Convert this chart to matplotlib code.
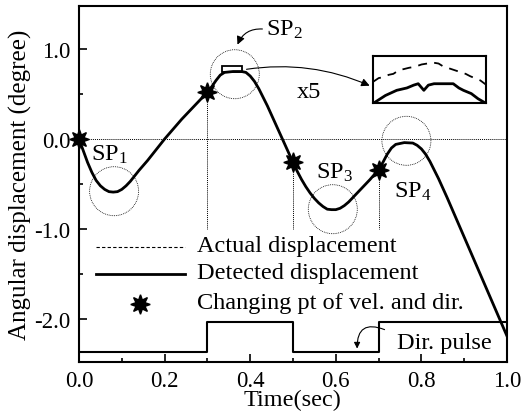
import matplotlib
matplotlib.use("Agg")
import matplotlib.pyplot as plt
from matplotlib.patches import Ellipse, Rectangle
from matplotlib.lines import Line2D
from matplotlib.ticker import MultipleLocator, FixedLocator

plt.rcParams['font.family'] = ['Liberation Serif', 'DejaVu Serif']
plt.rcParams['mathtext.fontset'] = 'custom'
plt.rcParams['mathtext.rm'] = 'Liberation Serif'
plt.rcParams['mathtext.it'] = 'Liberation Serif:italic'
plt.rcParams['axes.unicode_minus'] = False

# ---------------- data ----------------
time = [0.00, 0.01, 0.02, 0.03, 0.04, 0.05, 0.06, 0.07, 0.08, 0.09, 0.10, 0.11,
        0.12, 0.13, 0.14, 0.16, 0.18, 0.20, 0.22, 0.24, 0.26, 0.28, 0.30, 0.31,
        0.32, 0.33, 0.34, 0.36, 0.38, 0.39, 0.40, 0.41, 0.42, 0.44, 0.46, 0.48,
        0.50, 0.51, 0.52, 0.53, 0.54, 0.55, 0.56, 0.57, 0.58, 0.59, 0.60, 0.61,
        0.62, 0.63, 0.64, 0.66, 0.68, 0.70, 0.71, 0.72, 0.73, 0.74, 0.76, 0.78,
        0.79, 0.80, 0.81, 0.82, 0.84, 0.86, 0.90, 0.95, 1.00]
detected = [0.00, -0.13, -0.26, -0.37, -0.46, -0.52, -0.56, -0.585, -0.59, -0.585, -0.56, -0.52,
            -0.47, -0.41, -0.35, -0.24, -0.12, 0.00, 0.11, 0.22, 0.32, 0.42, 0.52, 0.58,
            0.65, 0.71, 0.74, 0.75, 0.75, 0.74, 0.70, 0.64, 0.56, 0.37, 0.16, -0.05,
            -0.26, -0.36, -0.45, -0.53, -0.60, -0.66, -0.71, -0.75, -0.78, -0.785, -0.785, -0.77,
            -0.74, -0.70, -0.65, -0.55, -0.45, -0.34, -0.26, -0.17, -0.10, -0.06, -0.04, -0.045,
            -0.07, -0.11, -0.17, -0.25, -0.44, -0.65, -1.09, -1.64, -2.19]
actual = list(detected)

star_t = [0.0, 0.3, 0.5, 0.7]
star_v = [0.0, 0.52, -0.26, -0.34]

pulse_t = [0.0, 0.3, 0.5, 0.7, 1.0]
pulse_v = [-2.37, -2.03, -2.37, -2.03, -2.03]

sp_labels = ['SP$_\\mathrm{1}$', 'SP$_\\mathrm{2}$', 'SP$_\\mathrm{3}$', 'SP$_\\mathrm{4}$']
sp_circle_t = [0.082, 0.364, 0.593, 0.765]
sp_circle_v = [-0.58, 0.72, -0.78, -0.02]
sp_label_t = [0.072, 0.48, 0.597, 0.78]
sp_label_v = [-0.17, 1.22, -0.36, -0.58]

# zoomed inset (x5) curves, in inset-relative coordinates
inset_act_x = [0.0, 0.05, 0.09, 0.14, 0.18, 0.23, 0.27, 0.32, 0.37, 0.43, 0.48, 0.53,
               0.58, 0.62, 0.67, 0.72, 0.77, 0.82, 0.86, 0.91, 0.95, 1.0]
inset_act_y = [0.45, 0.53, 0.55, 0.60, 0.62, 0.70, 0.72, 0.75, 0.77, 0.82, 0.84, 0.86,
               0.84, 0.78, 0.74, 0.70, 0.66, 0.62, 0.57, 0.52, 0.48, 0.39]
inset_det_x = [0.02, 0.11, 0.21, 0.30, 0.36, 0.40, 0.45, 0.49, 0.54, 0.71, 0.76, 0.80, 0.87, 0.93, 0.98]
inset_det_y = [0.02, 0.16, 0.27, 0.32, 0.38, 0.41, 0.27, 0.38, 0.41, 0.41, 0.32, 0.27, 0.20, 0.09, 0.02]

xticks = [0.0, 0.2, 0.4, 0.6, 0.8, 1.0]
xticklabels = ['0.0', '0.2', '0.4', '0.6', '0.8', '1.0']
yticks = [-2.0, -1.0, 0.0, 1.0]
yticklabels = ['-2.0', '-1.0', '0.0', '1.0']

# ---------------- figure ----------------
W, H = 521, 414
fig = plt.figure(figsize=(W / 100, H / 100), dpi=100)
ax = fig.add_axes([79 / W, 1 - 363 / H, 428 / W, 356 / H])
ax.set_xlim(0, 1.0)
ax.set_ylim(-2.478, 1.478)

# reference lines
ax.axhline(0, color='black', lw=0.7, ls=(0, (1, 1)), zorder=1)
for t, v in zip(star_t[1:], star_v[1:]):
    ax.plot([t, t], [v, -1.0], color='black', lw=0.7, ls=(0, (1, 1)), zorder=1)

# curves
ax.plot(time, actual, color='0.45', lw=0.8, ls=(0, (4, 3)), zorder=2)
ax.plot(time, detected, color='black', lw=2.0, zorder=3, solid_joinstyle='round')
ax.plot(star_t, star_v, ls='none', marker=(8, 1, 0), ms=14, color='black', zorder=5, clip_on=False)

# direction pulse
ax.step(pulse_t, pulse_v, where='post', color='black', lw=1.5, zorder=3)

# dotted circles
px_x = 428.0  # px per unit time
px_y = 90.0   # px per unit degree
r_px = 24.5
for t, v in zip(sp_circle_t, sp_circle_v):
    ax.add_patch(Ellipse((t, v), 2 * r_px / px_x, 2 * r_px / px_y, fill=False,
                         ec='black', lw=0.6, ls=(0, (1, 1.2)), zorder=4))

# SP labels
for lab, t, v in zip(sp_labels, sp_label_t, sp_label_v):
    ax.text(t, v, lab, fontsize=17.5, ha='center', va='center', zorder=6)

# small rectangle on SP2 peak
ax.add_patch(Rectangle((0.333, 0.74), 0.049, 0.075, fill=False, ec='black', lw=1.3, zorder=6))

# arrows
ax.annotate('', xy=(0.368, 1.02), xytext=(0.435, 1.22),
            arrowprops=dict(arrowstyle='-|>', color='black', lw=0.8,
                            connectionstyle='arc3,rad=0.4', mutation_scale=12))
ax.annotate('', xy=(0.685, 0.58), xytext=(0.385, 0.77),
            arrowprops=dict(arrowstyle='-|>', color='black', lw=0.8,
                            connectionstyle='arc3,rad=-0.15', mutation_scale=12))
ax.text(0.538, 0.53, 'x5', fontsize=17.5, ha='center', va='center')

ax.annotate('', xy=(0.65, -2.36), xytext=(0.72, -2.13),
            arrowprops=dict(arrowstyle='-|>', color='black', lw=0.8,
                            connectionstyle='arc3,rad=0.8', mutation_scale=9))
ax.text(0.742, -2.26, 'Dir. pulse', fontsize=17.5, ha='left', va='center')

# legend (manual)
ax.add_line(Line2D([0.040, 0.248], [0.323, 0.323], transform=ax.transAxes,
                   color='black', lw=0.8, ls=(0, (3, 2))))
ax.add_line(Line2D([0.040, 0.248], [0.247, 0.247], transform=ax.transAxes,
                   color='black', lw=2.0))
ax.add_line(Line2D([0.143], [0.163], transform=ax.transAxes, ls='none',
                   marker=(8, 1, 0), ms=14, color='black'))
leg_text = ['Actual displacement', 'Detected displacement', 'Changing pt of vel. and dir.']
for s, y in zip(leg_text, [0.328, 0.252, 0.168]):
    ax.text(0.276, y, s, fontsize=17.5, ha='left', va='center', transform=ax.transAxes)

# ticks
ax.xaxis.set_major_locator(FixedLocator(xticks))
ax.set_xticklabels(xticklabels)
ax.xaxis.set_minor_locator(MultipleLocator(0.1))
ax.yaxis.set_major_locator(FixedLocator(yticks))
ax.set_yticklabels(yticklabels)
ax.yaxis.set_minor_locator(MultipleLocator(0.5))
ax.tick_params(which='both', direction='in', top=False, right=False, labelsize=16.5, width=1.2)
ax.tick_params(which='major', length=6, pad=6)
ax.tick_params(which='minor', length=3)
for sp in ax.spines.values():
    sp.set_linewidth(1.5)

ax.set_xlabel('Time(sec)', fontsize=17.5, labelpad=-2)
ax.set_ylabel('Angular displacement (degree)', fontsize=18, labelpad=2)

# inset
iax = fig.add_axes([373 / W, 1 - 104 / H, 113 / W, 47 / H])
iax.set_xlim(0, 1)
iax.set_ylim(0, 1)
iax.plot(inset_act_x, inset_act_y, color='black', lw=1.3, ls=(0, (5, 4)))
iax.plot(inset_det_x, inset_det_y, color='black', lw=2.0)
iax.set_xticks([])
iax.set_yticks([])
for sp in iax.spines.values():
    sp.set_linewidth(1.5)

fig.savefig('out.png', dpi=100)
